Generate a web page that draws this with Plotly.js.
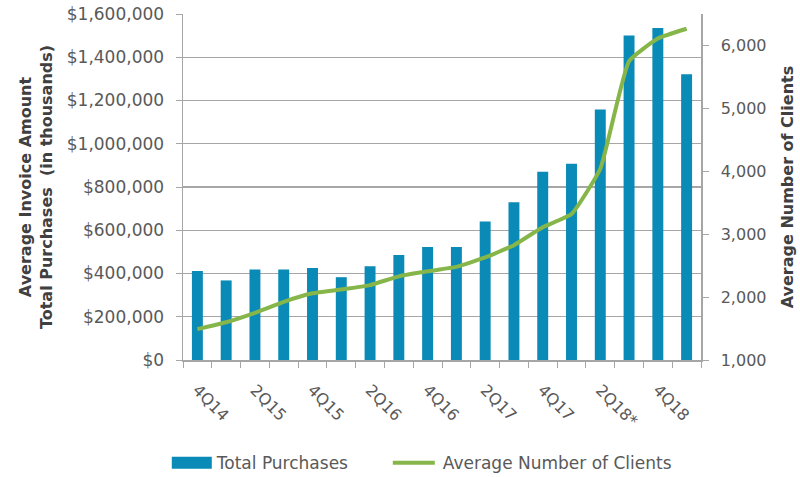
<!DOCTYPE html>
<html>
<head>
<meta charset="utf-8">
<script src="https://cdn.plot.ly/plotly-3.0.1.min.js"></script>
<style>
html,body{margin:0;padding:0;background:#fff;}
#chart{width:800px;height:477px;}
</style>
</head>
<body>
<div id="chart"></div>
<script>
var categories = ['4Q14','1Q15','2Q15','3Q15','4Q15','1Q16','2Q16','3Q16','4Q16','1Q17','2Q17','3Q17','4Q17','1Q18','2Q18*','3Q18','4Q18','1Q19'];
var tickLabels = ['4Q14','','2Q15','','4Q15','','2Q16','','4Q16','','2Q17','','4Q17','','2Q18*','','4Q18',''];
var totalPurchases = [411000, 368000, 419000, 419000, 426000, 383000, 434000, 486000, 522000, 522000, 640000, 730000, 870000, 907000, 1158000, 1501000, 1535000, 1321000];
var avgClients = [1490, 1600, 1750, 1925, 2060, 2120, 2190, 2330, 2410, 2480, 2630, 2825, 3110, 3320, 4040, 5750, 6110, 6265];

var FONT = 'DejaVu Sans, Verdana, sans-serif';
var tickColor = '#595959';
var titleColor = '#404040';
var lineGray = '#a6a6a6';

var traces = [
  {
    type: 'bar',
    name: 'Total Purchases',
    x: categories,
    y: totalPurchases,
    marker: {color: '#0a8ab6'},
    yaxis: 'y'
  },
  {
    type: 'scatter',
    mode: 'lines',
    name: 'Average Number of Clients',
    x: categories,
    y: avgClients,
    yaxis: 'y2',
    line: {color: '#86b64a', width: 4, shape: 'spline', smoothing: 0.4}
  }
];

var layout = {
  width: 800,
  height: 477,
  margin: {l: 183, r: 99, t: 14, b: 117, autoexpand: false},
  paper_bgcolor: '#ffffff',
  plot_bgcolor: '#ffffff',
  bargap: 0.62,
  showlegend: true,
  legend: {
    orientation: 'h',
    x: 0.405, xanchor: 'center',
    y: -0.298, yanchor: 'middle',
    bgcolor: 'rgba(0,0,0,0)',
    font: {family: FONT, size: 17, color: tickColor},
    itemwidth: 40,
    entrywidth: 171,
    traceorder: 'normal'
  },
  xaxis: {
    type: 'category',
    automargin: false,
    tickvals: categories,
    ticktext: tickLabels,
    tickson: 'boundaries',
    ticks: 'outside',
    ticklen: 6,
    tickcolor: lineGray,
    tickangle: 45,
    ticklabelstandoff: 13,
    tickfont: {family: FONT, size: 16, color: tickColor},
    showline: true,
    linecolor: lineGray,
    linewidth: 1.5,
    showgrid: false,
    zeroline: false
  },
  yaxis: {
    automargin: false,
    range: [0, 1600000],
    dtick: 200000,
    tickformat: '$,.0f',
    tickfont: {family: FONT, size: 17, color: tickColor},
    ticks: 'outside',
    ticklen: 6,
    ticklabelstandoff: 8,
    tickcolor: lineGray,
    showline: true,
    linecolor: lineGray,
    linewidth: 1.5,
    showgrid: true,
    gridcolor: lineGray,
    gridwidth: 1.2,
    zeroline: false,
    title: {text: 'Average Invoice Amount<br>Total Purchases  (in thousands)', font: {family: FONT, size: 16, color: titleColor, weight: 'bold'}, standoff: 10}
  },
  yaxis2: {
    automargin: false,
    overlaying: 'y',
    side: 'right',
    range: [1000, 6500],
    tickvals: [1000, 2000, 3000, 4000, 5000, 6000],
    tickformat: ',.0f',
    tickfont: {family: FONT, size: 16, color: tickColor},
    ticks: 'outside',
    ticklen: 6,
    ticklabelstandoff: 9,
    tickcolor: lineGray,
    showline: true,
    linecolor: lineGray,
    linewidth: 1.5,
    showgrid: false,
    zeroline: false,
    title: {text: 'Average Number of Clients', font: {family: FONT, size: 16, color: titleColor, weight: 'bold'}, standoff: 16}
  }
};

Plotly.newPlot('chart', traces, layout, {displayModeBar: false, staticPlot: true}).then(function (gd) {
  var items = gd.querySelectorAll('.legend .traces');
  // widen the bar legend swatch to a rectangle like the original
  if (items.length > 0) {
    var p = items[0].querySelector('.legendpoints path');
    if (p) { p.setAttribute('d', 'M20,6H-20V-6H20Z'); }
  }
  // lengthen the line legend swatch
  if (items.length > 1) {
    var l = items[1].querySelector('.legendlines path');
    if (l) { l.setAttribute('d', 'M0,0h42'); }
  }
  // let the last legend label overflow its fixed entry width
  var clipped = gd.querySelectorAll('.legend [clip-path], .legend .scrollbox');
  clipped.forEach(function (el) { el.removeAttribute('clip-path'); });
});
</script>
</body>
</html>
